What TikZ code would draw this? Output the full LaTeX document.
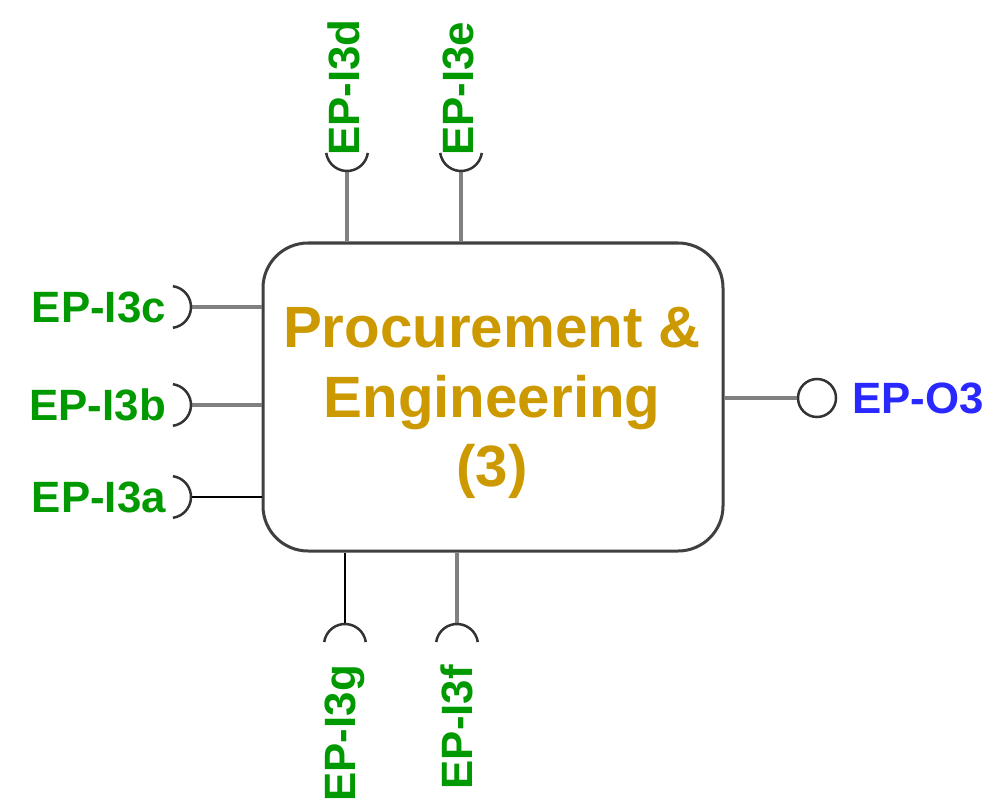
\documentclass[tikz,border=0pt]{standalone}
\usepackage{fontspec}
\setmainfont{Liberation Sans}
\usetikzlibrary{positioning}
\definecolor{epgreen}{RGB}{0,153,0}
\definecolor{epgold}{RGB}{204,153,0}
\definecolor{epblue}{RGB}{40,40,255}

\begin{document}
\begin{tikzpicture}[x=1bp,y=1bp,every node/.style={font=\bfseries\fontsize{44}{50}\selectfont}]
  \tikzset{
    proc/.style={draw=black!75,line width=3bp,rounded corners=45bp,fill=white,
      minimum width=460bp,minimum height=308bp,inner sep=0pt,align=center,
      text=epgold,font=\bfseries\fontsize{58.5}{70}\selectfont},
    wire/.style={draw=black!50,line width=4bp},
    bwire/.style={draw=black,line width=2bp},
    sock/.style={draw=black!80,line width=2.5bp},
    outsock/.style={circle,draw=black!80,line width=2.5bp,fill=white,minimum size=38bp,inner sep=0pt},
    inlbl/.style={text=epgreen,inner sep=0pt},
    outlbl/.style={text=epblue,inner sep=0pt}
  }
  \useasboundingbox (0,0) rectangle (996,-805);
  \node[proc] (p) at (493,-397) {};
  \node[proc,draw=none,fill=none,minimum width=0pt,minimum height=0pt] (t) at (492,-403) {Procurement \&\\Engineering\\(3)};
  % left inputs
  \foreach \name/\y/\w in {a/497/bwire,b/405/wire,c/307/wire}{
    \coordinate (i\name) at (191,-\y);
    \draw[\w] (i\name) -- (i\name -| p.west);
    \draw[sock] ([xshift=-21bp]i\name) ++(-82:21) arc[start angle=-82,end angle=82,radius=21];
    \node[inlbl,anchor=east] (l\name) at (166,-\y) {EP-I3\name};
  }
  % top inputs
  \foreach \name/\x in {d/347,e/461}{
    \coordinate (i\name) at (\x,-171);
    \draw[wire] (i\name) -- (i\name |- p.north);
    \draw[sock] ([yshift=21bp]i\name) ++(188:21) arc[start angle=188,end angle=352,radius=21];
    \node[inlbl,rotate=90,anchor=west] (l\name) at (\x-3,-156) {EP-I3\name};
  }
  % bottom inputs
  \foreach \name/\x/\w in {g/345/bwire,f/457/wire}{
    \coordinate (i\name) at (\x,-624);
    \draw[\w] (i\name) -- (i\name |- p.south);
    \draw[sock] ([yshift=-21bp]i\name) ++(8:21) arc[start angle=8,end angle=172,radius=21];
    \node[inlbl,rotate=90,anchor=east] (l\name) at (\x,-665) {EP-I3\name};
  }
  % output
  \node[outsock] (o3) at (817,-398) {};
  \draw[wire] (o3 -| p.east) -- (o3);
  \node[outlbl,right=15bp of o3] (lo3) {EP-O3};
\end{tikzpicture}
\end{document}
